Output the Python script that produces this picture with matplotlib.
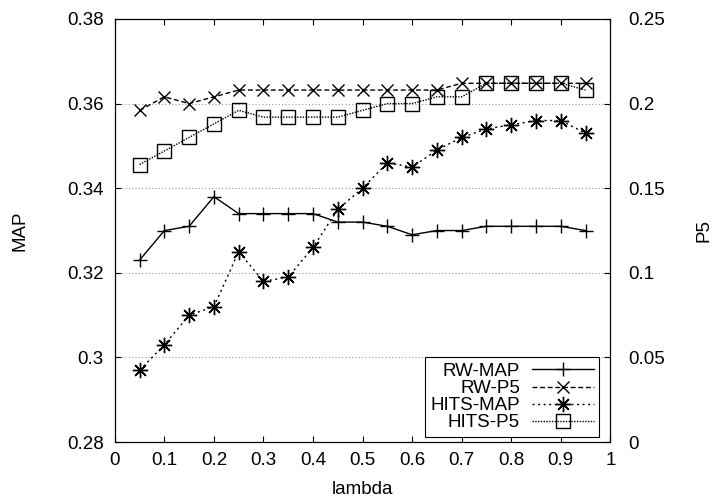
import matplotlib
matplotlib.use("Agg")
import matplotlib.pyplot as plt
from matplotlib.ticker import FuncFormatter, MultipleLocator

plt.rcParams['font.family'] = ['Liberation Sans', 'DejaVu Sans']
FS = 13.5

lam = [0.05, 0.10, 0.15, 0.20, 0.25, 0.30, 0.35, 0.40, 0.45, 0.50,
       0.55, 0.60, 0.65, 0.70, 0.75, 0.80, 0.85, 0.90, 0.95]
rw_map = [0.323, 0.330, 0.331, 0.338, 0.334, 0.334, 0.334, 0.334, 0.332, 0.332,
          0.331, 0.329, 0.330, 0.330, 0.331, 0.331, 0.331, 0.331, 0.330]
rw_p5 = [0.196, 0.204, 0.200, 0.204, 0.208, 0.208, 0.208, 0.208, 0.208, 0.208,
         0.208, 0.208, 0.208, 0.212, 0.212, 0.212, 0.212, 0.212, 0.212]
hits_map = [0.297, 0.303, 0.310, 0.312, 0.325, 0.318, 0.319, 0.326, 0.335, 0.340,
            0.346, 0.345, 0.349, 0.352, 0.354, 0.355, 0.356, 0.356, 0.353]
hits_p5 = [0.164, 0.172, 0.180, 0.188, 0.196, 0.192, 0.192, 0.192, 0.192, 0.196,
           0.200, 0.200, 0.204, 0.204, 0.212, 0.212, 0.212, 0.212, 0.208]

fig = plt.figure(figsize=(7.13, 4.99), dpi=100)
ax = fig.add_axes([0.161, 0.114, 0.695, 0.848])
ax2 = ax.twinx()

fmt = FuncFormatter(lambda v, p: '%g' % round(v, 6))

ax.set_xlim(0, 1)
ax.set_ylim(0.28, 0.38)
ax2.set_ylim(0, 0.25)
ax.xaxis.set_major_locator(MultipleLocator(0.1))
ax.yaxis.set_major_locator(MultipleLocator(0.02))
ax2.yaxis.set_major_locator(MultipleLocator(0.05))
ax.xaxis.set_major_formatter(fmt)
ax.yaxis.set_major_formatter(fmt)
ax2.yaxis.set_major_formatter(fmt)

ax.yaxis.grid(True, color='0.6', linestyle=(0, (1, 2)), linewidth=0.8)
ax.set_axisbelow(True)

ax.tick_params(axis='x', direction='in', length=4.5, width=0.8, top=True,
               labelsize=FS, pad=7)
ax.tick_params(axis='y', direction='in', length=4.5, width=0.8, right=False,
               labelsize=FS, pad=8)
ax2.tick_params(axis='y', direction='in', length=4.5, width=0.8,
                labelsize=FS, pad=13)

for a in (ax, ax2):
    for s in a.spines.values():
        s.set_linewidth(0.8)

l1, = ax.plot(lam, rw_map, color='black', lw=1.0, marker='+', ms=10, mew=1.0,
              label='RW-MAP')
l2, = ax2.plot(lam, rw_p5, color='black', lw=1.0, linestyle=(0, (3.5, 2)),
               marker='x', ms=9, mew=1.0, label='RW-P5')
l3, = ax.plot(lam, hits_map, color='black', lw=1.0, linestyle=(0, (1.5, 2.5)),
              marker=(8, 2, 0), ms=11, mew=1.0, label='HITS-MAP')
l4, = ax2.plot(lam, hits_p5, color='black', lw=1.0, linestyle=(0, (1, 1)),
               marker='s', ms=9.5, mfc='none', mew=1.0, label='HITS-P5')

ax.set_xlabel('lambda', fontsize=FS, labelpad=8.5)
ax.set_ylabel('MAP', fontsize=FS, labelpad=28)
ax2.set_ylabel('P5', fontsize=FS, labelpad=22)

leg = ax2.legend(handles=[l1, l2, l3, l4], loc='lower right',
                 bbox_to_anchor=(0.978, 0.012), markerfirst=False,
                 fontsize=FS, handlelength=3.3, labelspacing=0.0,
                 borderpad=0.3, handletextpad=0.64, borderaxespad=0,
                 fancybox=False, framealpha=1, edgecolor='black')
leg.get_frame().set_linewidth(0.8)

fig.savefig('out.png', dpi=100)
